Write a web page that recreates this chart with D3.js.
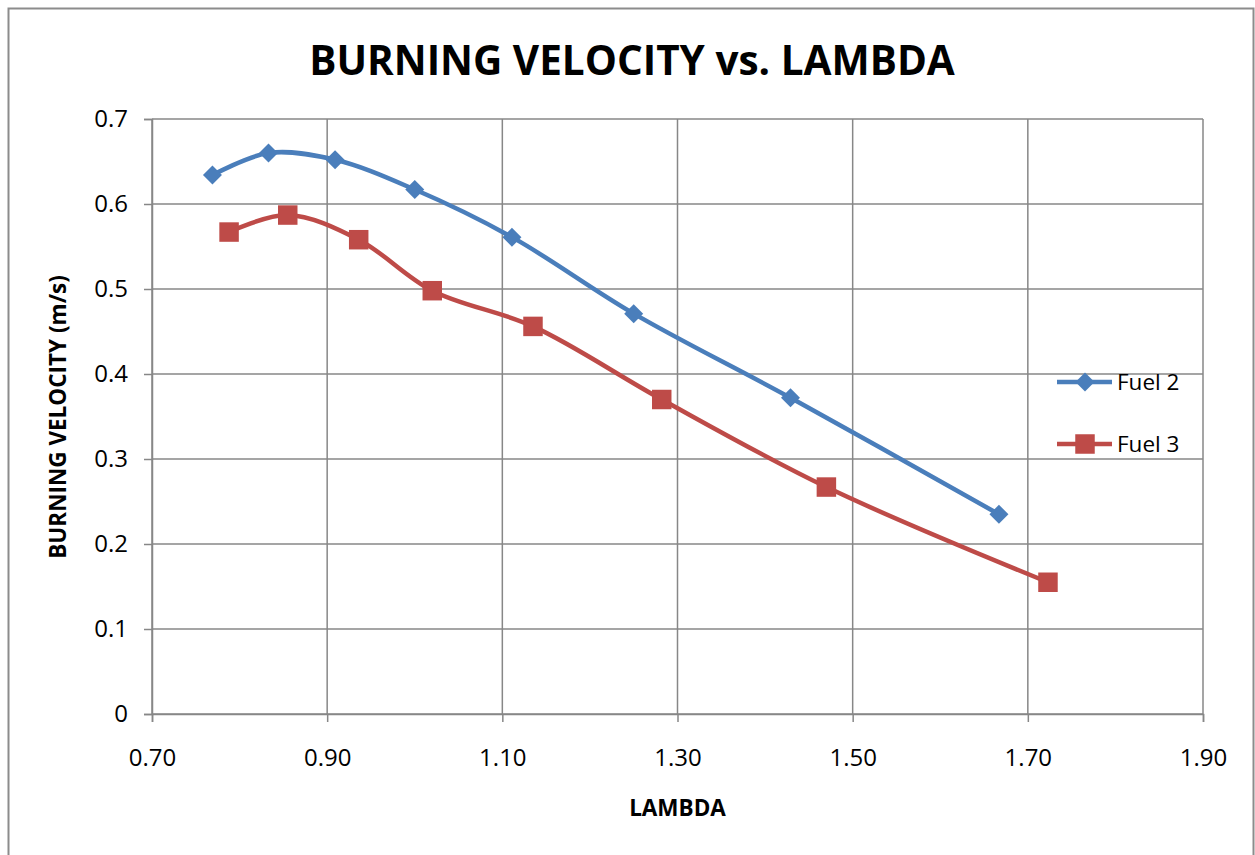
<!DOCTYPE html>
<html>
<head>
<meta charset="utf-8">
<script src="https://cdn.jsdelivr.net/npm/d3@7"></script>
<style>
  body { margin: 0; background: #fff; }
  text { font-family: "Open Sans", "Noto Sans", sans-serif; fill: #000; }
</style>
</head>
<body>
<svg width="1255" height="855"></svg>
<script>
const fuel2Lambda = [0.769, 0.833, 0.909, 1.000, 1.111, 1.250, 1.429, 1.667];
const fuel2Speed  = [0.634, 0.660, 0.652, 0.617, 0.561, 0.471, 0.372, 0.235];
const fuel3Lambda = [0.788, 0.855, 0.936, 1.020, 1.135, 1.282, 1.470, 1.723];
const fuel3Speed  = [0.567, 0.587, 0.558, 0.498, 0.456, 0.370, 0.267, 0.155];
const xTicks = [0.70, 0.90, 1.10, 1.30, 1.50, 1.70, 1.90];
const yTicks = [0, 0.1, 0.2, 0.3, 0.4, 0.5, 0.6, 0.7];
const seriesNames = ["Fuel 2", "Fuel 3"];

const svg = d3.select("svg"),
    width = +svg.attr("width"),
    height = +svg.attr("height");

const plot = {left: 152, right: 1203, top: 119, bottom: 714};
const gridColor = "#878787";
const colors = ["#4a7ebb", "#be4b48"];

// outer chart frame
svg.append("rect")
    .attr("x", 8.5).attr("y", 8.5)
    .attr("width", 1245).attr("height", 860)
    .attr("fill", "none").attr("stroke", "#8c8c8c").attr("stroke-width", 2);

const x = d3.scaleLinear().domain([0.7, 1.9]).range([plot.left, plot.right]);
const y = d3.scaleLinear().domain([0, 0.7]).range([plot.bottom, plot.top]);

// grid
svg.append("g").selectAll("line").data(yTicks).join("line")
    .attr("x1", plot.left).attr("x2", plot.right)
    .attr("y1", d => y(d)).attr("y2", d => y(d))
    .attr("stroke", gridColor).attr("stroke-width", 1.5);
svg.append("g").selectAll("line").data(xTicks).join("line")
    .attr("x1", d => x(d)).attr("x2", d => x(d))
    .attr("y1", plot.top).attr("y2", plot.bottom)
    .attr("stroke", gridColor).attr("stroke-width", 1.5);

// axes
const xAxis = svg.append("g")
    .attr("transform", `translate(0,${plot.bottom})`)
    .call(d3.axisBottom(x).tickValues(xTicks).tickFormat(d3.format(".2f")).tickSize(8).tickPadding(27));
const yAxis = svg.append("g")
    .attr("transform", `translate(${plot.left},0)`)
    .call(d3.axisLeft(y).tickValues(yTicks).tickFormat(d => d === 0 ? "0" : d3.format(".1f")(d)).tickSize(8).tickPadding(16));
[xAxis, yAxis].forEach(a => {
    a.attr("font-size", 24).attr("font-family", "'Open Sans', sans-serif");
    a.select(".domain").attr("stroke", gridColor).attr("stroke-width", 1.5);
    a.selectAll(".tick line").attr("stroke", gridColor).attr("stroke-width", 1.5);
    a.selectAll("text").attr("fill", "#000");
});

// series
const line = d3.line()
    .x(d => x(d[0])).y(d => y(d[1]))
    .curve(d3.curveCatmullRom.alpha(0.5));

const data2 = fuel2Lambda.map((l, i) => [l, fuel2Speed[i]]);
const data3 = fuel3Lambda.map((l, i) => [l, fuel3Speed[i]]);

const diamond = d3.symbol().type(d3.symbolSquare).size(180);
const square = d3.symbol().type(d3.symbolSquare).size(380);

function drawSeries(data, color, symbol, rotate) {
    svg.append("path").datum(data)
        .attr("d", line)
        .attr("fill", "none").attr("stroke", color).attr("stroke-width", 4.5);
    svg.append("g").selectAll("path").data(data).join("path")
        .attr("d", symbol)
        .attr("transform", d => `translate(${x(d[0])},${y(d[1])}) rotate(${rotate})`)
        .attr("fill", color);
}
drawSeries(data2, colors[0], diamond, 45);
drawSeries(data3, colors[1], square, 0);

// legend
const legend = svg.append("g");
const legendY = [382, 444];
seriesNames.forEach((name, i) => {
    legend.append("line")
        .attr("x1", 1057).attr("x2", 1112)
        .attr("y1", legendY[i]).attr("y2", legendY[i])
        .attr("stroke", colors[i]).attr("stroke-width", 4.5);
    legend.append("path")
        .attr("d", i === 0 ? diamond : square)
        .attr("transform", `translate(1085,${legendY[i]}) rotate(${i === 0 ? 45 : 0})`)
        .attr("fill", colors[i]);
    legend.append("text")
        .attr("x", 1117).attr("y", legendY[i] + 8)
        .attr("font-size", 22.5)
        .text(name);
});

// titles
svg.append("text")
    .attr("x", 632).attr("y", 75)
    .attr("text-anchor", "middle")
    .attr("font-size", 40.5).attr("font-weight", "bold")
    .text("BURNING VELOCITY vs. LAMBDA");

svg.append("text")
    .attr("x", (plot.left + plot.right) / 2).attr("y", 816)
    .attr("text-anchor", "middle")
    .attr("font-size", 22.5).attr("font-weight", "bold")
    .text("LAMBDA");

svg.append("text")
    .attr("transform", `translate(66,417) rotate(-90)`)
    .attr("text-anchor", "middle")
    .attr("font-size", 22.5).attr("font-weight", "bold")
    .text("BURNING VELOCITY (m/s)");
</script>
</body>
</html>
